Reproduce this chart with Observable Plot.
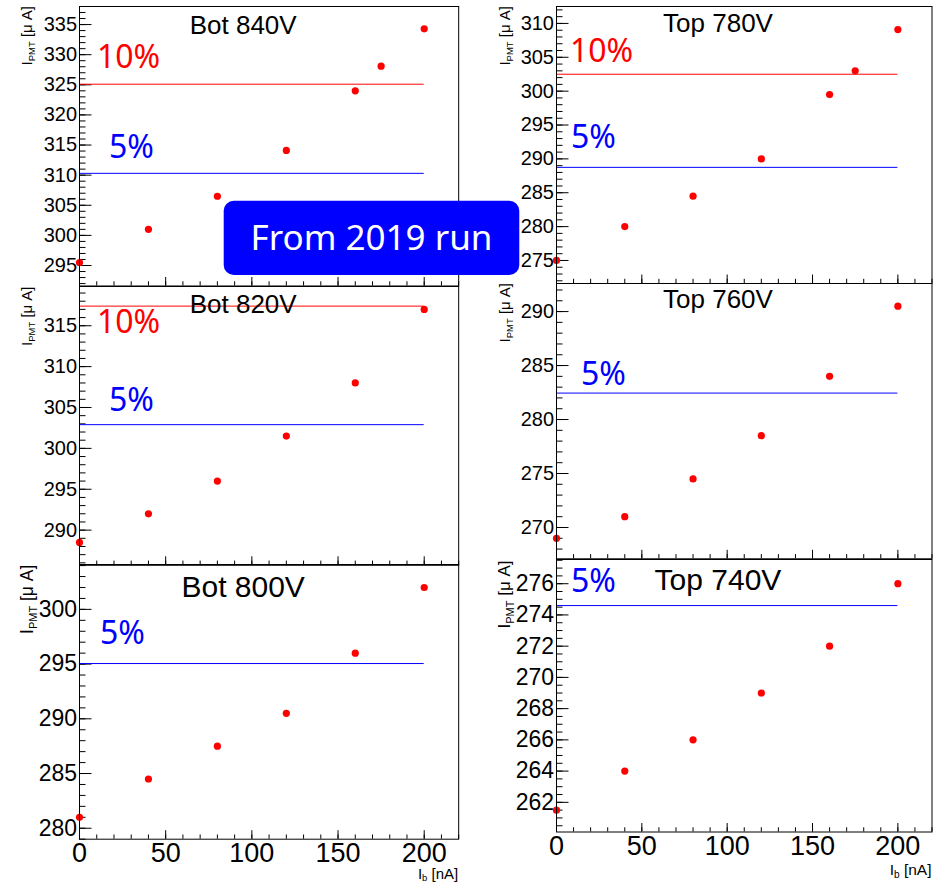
<!DOCTYPE html>
<html><head><meta charset="utf-8">
<script src="https://cdn.jsdelivr.net/npm/d3@7"></script>
<script src="https://cdn.jsdelivr.net/npm/@observablehq/plot@0.6"></script>
<style>
body{margin:0;background:#fff;}
#chart{position:relative;width:936px;height:885px;overflow:hidden;background:#fff;}
#chart svg{position:absolute;background:transparent;max-width:none;overflow:visible;}
</style></head><body><div id="chart"></div>
<script>
// ---- data ----
const xTickLabels = [0, 50, 100, 150, 200];
const beamX7 = [0, 40, 80, 120, 160, 175, 200];
const beamX6 = [0, 40, 80, 120, 160, 200];

const bot840Y = [295.5, 301.0, 306.5, 314.1, 324.0, 328.1, 334.3];
const top780Y = [275.0, 280.0, 284.5, 290.0, 299.5, 303.0, 309.1];
const bot820Y = [288.5, 292.0, 296.0, 301.5, 308.0, 317.0];
const top760Y = [269.0, 271.0, 274.5, 278.5, 284.0, 290.5];
const bot800Y = [281.0, 284.5, 287.5, 290.5, 296.0, 302.0];
const top740Y = [261.5, 264.0, 266.0, 269.0, 272.0, 276.0];

const bot840Lines = [325.1, 310.3];
const top780Lines = [302.5, 288.75];
const bot820Lines = [317.4, 302.9];
const top760Lines = [282.45];
const bot800Lines = [295.05];
const top740Lines = [274.6];
const lineColors10 = ["#ff0000", "#0000ff"];
const lineColors5 = ["#0000ff"];

const bot840Ticks = [295, 300, 305, 310, 315, 320, 325, 330, 335];
const top780Ticks = [275, 280, 285, 290, 295, 300, 305, 310];
const bot820Ticks = [290, 295, 300, 305, 310, 315];
const top760Ticks = [270, 275, 280, 285, 290];
const bot800Ticks = [280, 285, 290, 295, 300];
const top740Ticks = [262, 264, 266, 268, 270, 272, 274, 276];

const titles = ["Bot 840V", "Top 780V", "Bot 820V", "Top 760V", "Bot 800V", "Top 740V"];
const yTitle = {main: "I", sub: "PMT", rest: " [\u03bc A]"};
const xTitle = {main: "I", sub: "b", rest: " [nA]"};
const pctLabels = ["10%", "5%"];
const boxText = "From 2019 run";

// ---- layout ----
const FONT = "'Liberation Sans', Arial, Helvetica, sans-serif";
const panels = [
  {title: titles[0], xs: beamX7, ys: bot840Y, lines: bot840Lines, colors: lineColors10, ticks: bot840Ticks, minor: 1,
   L: 79.3, R: 458.5, T: 6, B: 285.5, dom: [291.6, 338.0], tDy: 27.3, tFs: 26, yFs: 20, showX: false,
   yt: {bx: 32, top: 6, fs: 15, sub: 9.5}},
  {title: titles[1], xs: beamX7, ys: top780Y, lines: top780Lines, colors: lineColors10, ticks: top780Ticks, minor: 1,
   L: 556, R: 931.5, T: 6, B: 283, dom: [271.6, 312.5], tDy: 25.7, tFs: 26, yFs: 20, showX: false,
   yt: {bx: 509.5, top: 6, fs: 15, sub: 9.5}},
  {title: titles[2], xs: beamX6, ys: bot820Y, lines: bot820Lines, colors: lineColors10, ticks: bot820Ticks, minor: 1,
   L: 79.3, R: 458.5, T: 285.5, B: 564.3, dom: [285.7, 319.8], tDy: 26.8, tFs: 26, yFs: 20, showX: false,
   yt: {bx: 32, top: 286, fs: 15, sub: 9.5}},
  {title: titles[3], xs: beamX6, ys: top760Y, lines: top760Lines, colors: lineColors5, ticks: top760Ticks, minor: 1,
   L: 556, R: 931.5, T: 283, B: 558.3, dom: [267.1, 292.6], tDy: 24.3, tFs: 26, yFs: 20, showX: false,
   yt: {bx: 509.5, top: 283, fs: 15, sub: 9.5}},
  {title: titles[4], xs: beamX6, ys: bot800Y, lines: bot800Lines, colors: lineColors5, ticks: bot800Ticks, minor: 1,
   L: 79.3, R: 458.5, T: 564.3, B: 839, dom: [279.0, 304.1], tDy: 33, tFs: 30, yFs: 23, showX: true,
   yt: {bx: 33, top: 565, fs: 17.5, sub: 11}, xt: {base: 879, fs: 15, sub: 9.5, shift: 2.5}},
  {title: titles[5], xs: beamX6, ys: top740Y, lines: top740Lines, colors: lineColors5, ticks: top740Ticks, minor: 0.5,
   L: 556, R: 931.5, T: 558.5, B: 831, dom: [260.1, 277.55], tDy: 30.8, tFs: 30, yFs: 23, showX: true,
   yt: {bx: 510, top: 560, fs: 17, sub: 11}, xt: {base: 874, fs: 15.5, sub: 10, shift: 3}}
];

const chart = document.getElementById("chart");

function addSubText(sel, x, y, t, fs, subFs, rotate, anchor, shift) {
  const sh = shift != null ? shift : fs * 0.25;
  const txt = sel.append("text")
    .attr("transform", `translate(${x},${y})` + (rotate ? " rotate(-90)" : ""))
    .attr("text-anchor", anchor)
    .attr("font-family", FONT)
    .attr("font-size", fs)
    .attr("fill", "black");
  txt.append("tspan").text(t.main);
  txt.append("tspan").attr("font-size", subFs).attr("dy", sh).text(t.sub);
  txt.append("tspan").attr("dy", -sh).text(t.rest);
}

for (const p of panels) {
  const fw = p.R - p.L, fh = p.B - p.T;
  const mL = 80, mT = 30, mR = 10, mB = 55;
  const svgLeft = p.L - mL, svgTop = p.T - mT;
  const yMinor = d3.range(Math.ceil(p.dom[0] / p.minor) * p.minor, p.dom[1], p.minor);
  const xMinor = d3.range(0, 221, 10);
  const data = p.xs.map((x, i) => ({x, y: p.ys[i]}));
  const lineData = p.lines.map((v, i) => ({v, c: p.colors[i]}));
  const marks = [
    Plot.tickY(yMinor, {y: d => d, stroke: "black", strokeWidth: 1, insetRight: fw - 6.5}),
    Plot.tickY(p.ticks, {y: d => d, stroke: "black", strokeWidth: 1, insetRight: fw - 12.5}),
    Plot.tickX(xMinor, {x: d => d, stroke: "black", strokeWidth: 1, insetTop: fh - 4.2}),
    Plot.tickX(xTickLabels, {x: d => d, stroke: "black", strokeWidth: 1, insetTop: fh - 8.5}),
    Plot.axisY({ticks: p.ticks, tickSize: 0, tickPadding: 2.5, fontSize: p.yFs, label: null}),
    Plot.ruleY(lineData, {y: "v", x1: () => 0, x2: () => 200, stroke: d => d.c, strokeWidth: 1}),
    Plot.dot(data, {x: "x", y: "y", r: 3.6, fill: "#ff0000", stroke: "none"}),
    Plot.frame({stroke: "black", strokeWidth: 1}),
    Plot.text([p.title], {frameAnchor: "top", dx: (p.L < 300 ? 243 : 717.5) - (p.L + p.R) / 2, dy: p.tDy,
      lineAnchor: "bottom", fontSize: p.tFs, fill: "black", fontFamily: FONT})
  ];
  if (p.showX) marks.push(Plot.axisX({ticks: xTickLabels, tickSize: 0, tickPadding: 3.5, fontSize: 27, label: null}));
  const svg = Plot.plot({
    width: mL + fw + mR, height: mT + fh + mB,
    marginLeft: mL, marginTop: mT, marginRight: mR, marginBottom: mB,
    x: p.showX ? {domain: [0, 220]} : {domain: [0, 220], axis: null},
    y: {domain: p.dom},
    color: {type: "identity"},
    style: {fontFamily: FONT, background: "transparent", color: "black", overflow: "visible"},
    marks
  });
  svg.style.left = svgLeft + "px";
  svg.style.top = svgTop + "px";
  const s = d3.select(svg);
  addSubText(s, p.yt.bx - svgLeft, p.yt.top - svgTop, yTitle, p.yt.fs, p.yt.sub, true, "end");
  if (p.xt) addSubText(s, p.R - svgLeft, p.xt.base - svgTop, xTitle, p.xt.fs, p.xt.sub, false, "end", p.xt.shift);
  chart.appendChild(svg);
}

// ---- annotation overlay ----
const ov = d3.select(chart).append("svg")
  .attr("width", 936).attr("height", 885)
  .style("left", "0px").style("top", "0px").style("pointer-events", "none");
const ANN = "'Noto Sans', 'Open Sans', sans-serif";
const ann = [
  [pctLabels[0], 97, 68.3, "#ff0000"], [pctLabels[1], 109, 158.3, "#0000ff"],
  [pctLabels[0], 570, 62.3, "#ff0000"], [pctLabels[1], 571, 147.7, "#0000ff"],
  [pctLabels[0], 97, 333.3, "#ff0000"], [pctLabels[1], 109, 410.7, "#0000ff"],
  [pctLabels[1], 581, 385, "#0000ff"],
  [pctLabels[1], 100, 644, "#0000ff"],
  [pctLabels[1], 571, 592.3, "#0000ff"]
];
for (const [t, x, y, c] of ann) {
  ov.append("text").attr("x", x).attr("y", y).attr("font-family", ANN).attr("font-size", 32)
    .attr("fill", c).text(t);
}
ov.append("rect").attr("x", 223.7).attr("y", 200.7).attr("width", 295.6).attr("height", 74.3)
  .attr("rx", 10).attr("fill", "#0000ff");
ov.append("text").attr("x", 371.5).attr("y", 250).attr("text-anchor", "middle")
  .attr("font-family", ANN).attr("font-size", 35).attr("fill", "white").text(boxText);
</script>
</body></html>
